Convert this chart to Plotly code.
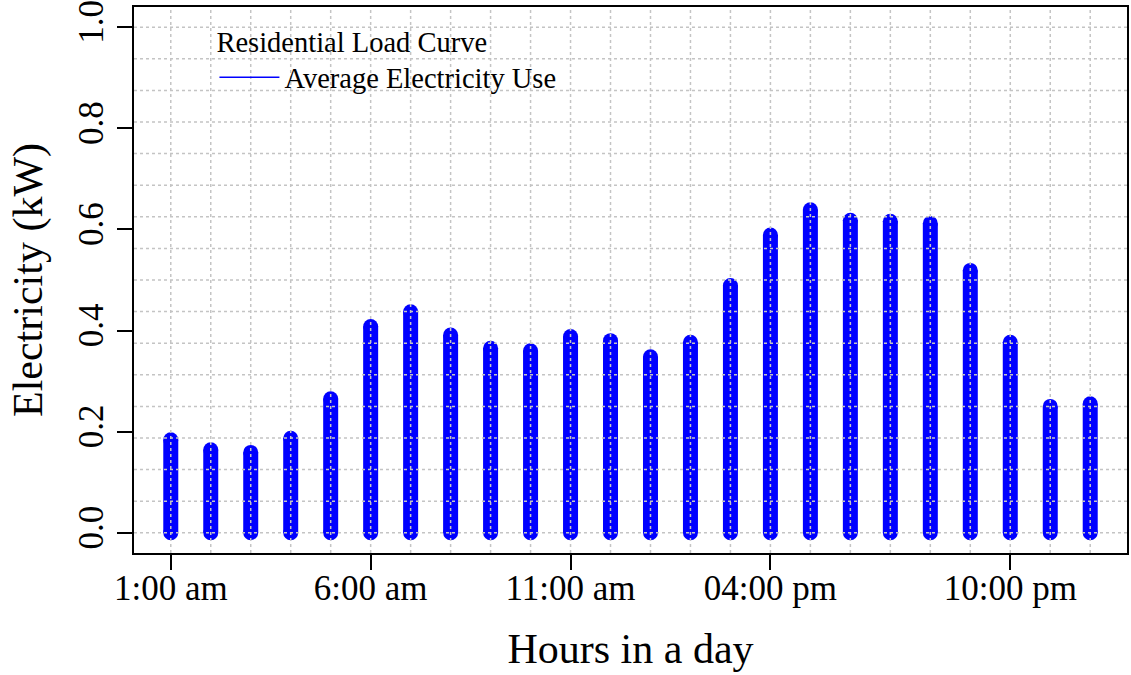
import plotly.graph_objects as go

# Hourly average household electricity use (kW), hour 1 .. 24
hours = list(range(1, 25))
usage_kw = [0.184, 0.164, 0.159, 0.187, 0.265, 0.408, 0.437, 0.391,
            0.365, 0.360, 0.388, 0.380, 0.348, 0.377, 0.489, 0.589,
            0.639, 0.618, 0.616, 0.612, 0.519, 0.377, 0.250, 0.255]

x_tick_vals = [1, 6, 11, 16, 22]
x_tick_text = ["1:00 am", "6:00 am", "11:00 am", "04:00 pm", "10:00 pm"]
y_tick_vals = [0.0, 0.2, 0.4, 0.6, 0.8, 1.0]
y_tick_text = ["0.0", "0.2", "0.4", "0.6", "0.8", "1.0"]

FONT = "Liberation Serif"
BLUE = "#0000FF"
GRID = "#c4c4c4"

# vertical "h"-style spikes: one segment per hour, separated by None
xs, ys = [], []
for h, v in zip(hours, usage_kw):
    xs += [h, h, None]
    ys += [0, v, None]

fig = go.Figure()
fig.add_trace(go.Scatter(
    x=xs, y=ys, mode="lines+markers",
    line=dict(color=BLUE, width=15),
    marker=dict(color=BLUE, size=15, line=dict(width=0)),
    showlegend=False, hoverinfo="skip",
))
# legend entry drawn with a thin line
fig.add_trace(go.Scatter(
    x=[None], y=[None], mode="lines",
    line=dict(color=BLUE, width=1.5),
    name="Average Electricity Use",
))

# dotted grid drawn over the spikes
shapes = []
for h in hours:
    shapes.append(dict(type="line", xref="x", yref="paper", x0=h, x1=h, y0=0, y1=1,
                       layer="above", line=dict(color=GRID, width=1.5, dash="3px,3px")))
n_h = 16
for k in range(n_h + 1):
    yv = k / n_h
    shapes.append(dict(type="line", xref="paper", yref="y", x0=0, x1=1, y0=yv, y1=yv,
                       layer="above", line=dict(color=GRID, width=1.5, dash="3px,3px")))

fig.update_layout(
    width=1131, height=675,
    margin=dict(l=134, r=4, t=7, b=122),
    paper_bgcolor="white", plot_bgcolor="white",
    font=dict(family=FONT, color="black"),
    shapes=shapes,
    legend=dict(
        x=0.081, y=0.985, xanchor="left", yanchor="top",
        bgcolor="rgba(0,0,0,0)", borderwidth=0,
        font=dict(family=FONT, size=28.5, color="black"),
        title=dict(text="Residential Load Curve", side="top",
                   font=dict(family=FONT, size=28.5, color="black")),
        itemwidth=60,
    ),
    xaxis=dict(
        range=[0.08, 24.92], tickmode="array", tickvals=x_tick_vals, ticktext=x_tick_text,
        ticks="outside", ticklen=15, tickwidth=1.5, tickcolor="black",
        ticklabelstandoff=-12,
        showline=True, linecolor="black", linewidth=1.5, mirror=True,
        showgrid=False, zeroline=False,
        tickfont=dict(family=FONT, size=35),
        title=dict(text="Hours in a day", font=dict(family=FONT, size=42), standoff=27),
        automargin=False,
    ),
    yaxis=dict(
        range=[-0.04, 1.04], tickmode="array", tickvals=y_tick_vals, ticktext=y_tick_text,
        tickangle=-90,
        ticks="outside", ticklen=15, tickwidth=1.5, tickcolor="black",
        showline=True, linecolor="black", linewidth=1.5, mirror=True,
        showgrid=False, zeroline=False,
        tickfont=dict(family=FONT, size=35),
        title=dict(text="Electricity (kW)", font=dict(family=FONT, size=42), standoff=17),
        automargin=False,
    ),
)

fig.write_html("out.html")
